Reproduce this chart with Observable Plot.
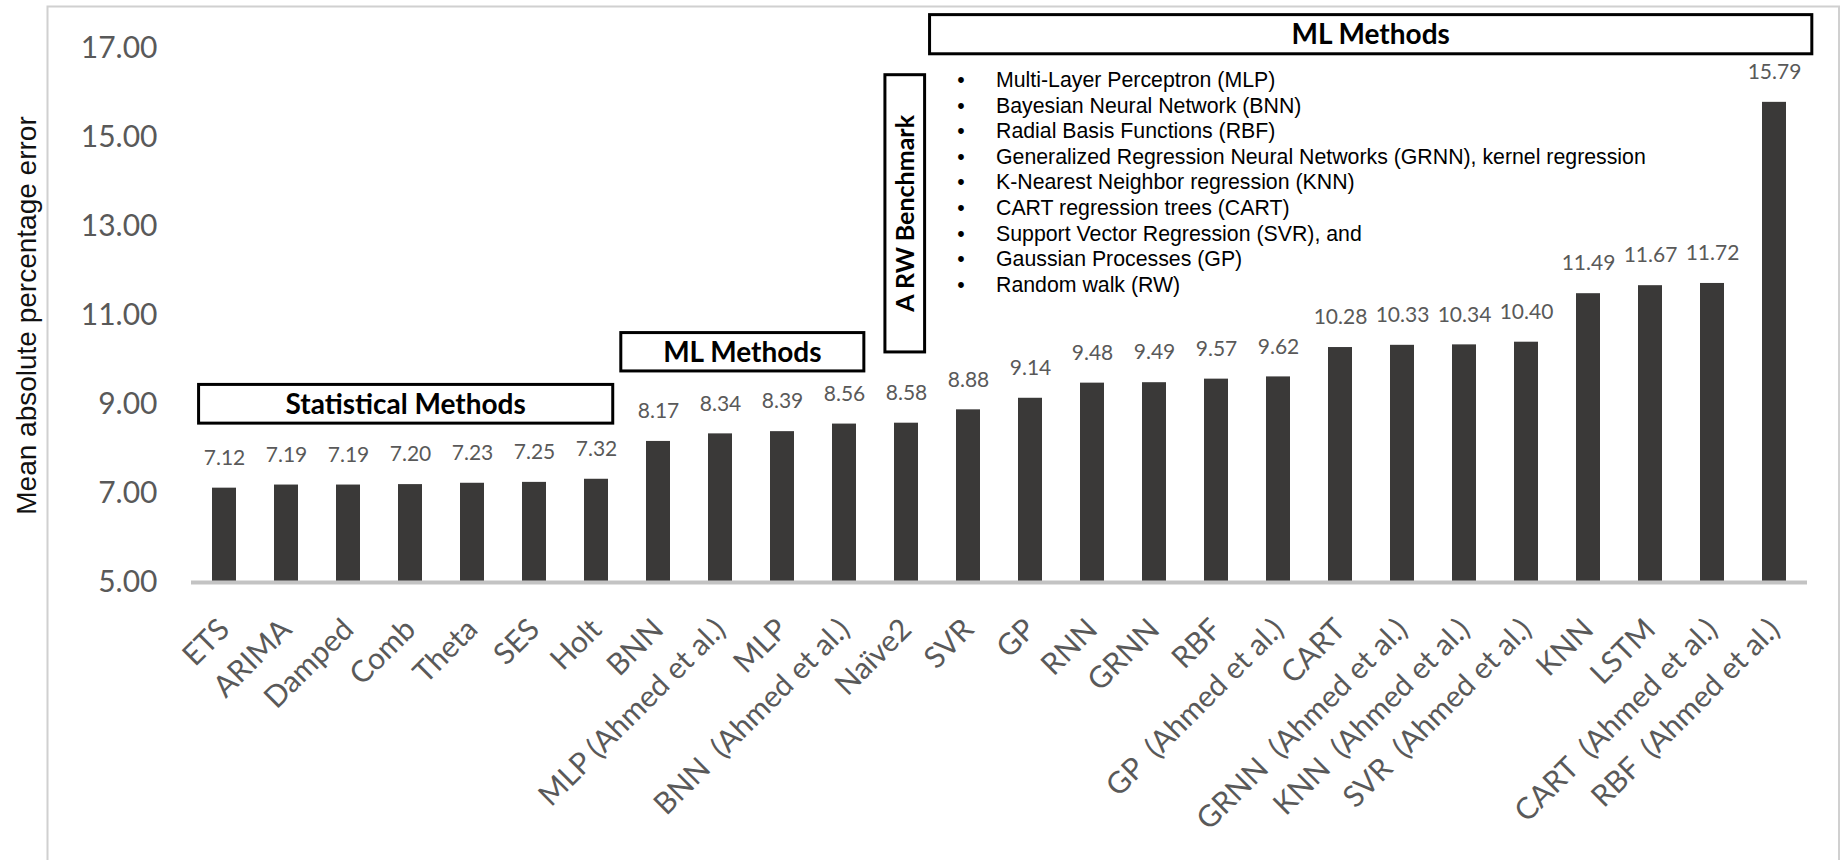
<!DOCTYPE html>
<html>
<head>
<meta charset="utf-8">
<script src="https://cdn.jsdelivr.net/npm/d3@7"></script>
<script src="https://cdn.jsdelivr.net/npm/@observablehq/plot@0.6"></script>
<style>
  body { margin: 0; background: #fff; }
  svg text { white-space: pre; }
</style>
</head>
<body>
<div id="chart"></div>
<script>
// Forecasting methods, ordered by accuracy
const methods = [
  "ETS", "ARIMA", "Damped", "Comb", "Theta", "SES", "Holt",
  "BNN", "MLP (Ahmed et al.)", "MLP", "BNN  (Ahmed et al.)", "Naïve2",
  "SVR", "GP", "RNN", "GRNN", "RBF", "GP  (Ahmed et al.)", "CART",
  "GRNN  (Ahmed et al.)", "KNN  (Ahmed et al.)", "SVR  (Ahmed et al.)",
  "KNN", "LSTM", "CART  (Ahmed et al.)", "RBF  (Ahmed et al.)"
];

// Mean absolute percentage error of each method
const mape = [
  7.12, 7.19, 7.19, 7.20, 7.23, 7.25, 7.32,
  8.17, 8.34, 8.39, 8.56, 8.58,
  8.88, 9.14, 9.48, 9.49, 9.57, 9.62, 10.28,
  10.33, 10.34, 10.40,
  11.49, 11.67, 11.72, 15.79
];

const yTicks = [5, 7, 9, 11, 13, 15, 17];
const yTitle = "Mean absolute percentage error";

// Method families (first and last method covered by each bracket)
const groupLabels = ["Statistical Methods", "ML Methods", "A RW Benchmark", "ML Methods"];
const groupFrom   = ["ETS", "BNN", "Naïve2", "SVR"];
const groupTo     = ["Holt", "BNN  (Ahmed et al.)", "Naïve2", "RBF  (Ahmed et al.)"];

// Methods described in the legend list
const methodList = [
  "Multi-Layer Perceptron (MLP)",
  "Bayesian Neural Network (BNN)",
  "Radial Basis Functions (RBF)",
  "Generalized Regression Neural Networks (GRNN), kernel regression",
  "K-Nearest Neighbor regression (KNN)",
  "CART regression trees (CART)",
  "Support Vector Regression (SVR), and",
  "Gaussian Processes (GP)",
  "Random walk (RW)"
];

const data = methods.map((m, i) => ({method: m, mape: mape[i]}));

const W = 1841, H = 860;
const labelGray = "#595959";
const arial = "'Liberation Sans', Arial, sans-serif";

const plot = Plot.plot({
  width: W,
  height: H,
  marginLeft: 191,
  marginRight: 34,
  marginTop: 48,
  marginBottom: 278,
  style: {background: "#fff", fontFamily: "Lato, sans-serif"},
  x: {domain: methods, paddingInner: 0.614, paddingOuter: 0.307, label: null},
  y: {domain: [5, 17], label: null},
  marks: [
    Plot.barY(data, {x: "method", y1: 5, y2: "mape", fill: "#3a3938"}),
    Plot.ruleY([5], {stroke: "#c3c3c3", strokeWidth: 4}),
    Plot.text(data, {
      x: "method", y: "mape", text: d => d.mape.toFixed(2),
      dy: -30, fontSize: 21, fill: labelGray
    }),
    Plot.axisY({
      ticks: yTicks, tickFormat: d => d.toFixed(2), tickSize: 0, tickPadding: 34,
      fontSize: 30, color: labelGray, label: null
    }),
    Plot.axisX({
      tickRotate: -45, tickSize: 0, tickPadding: 42,
      fontSize: 30, color: labelGray, label: null
    }),
    Plot.text([yTitle], {
      frameAnchor: "left", textAnchor: "middle", rotate: -90, dx: -156, lineAnchor: "bottom",
      fontSize: 28, fill: "#111", fontFamily: arial
    })
  ]
});

// Brackets, legend list and outer border, placed with the plot's own scales
const xs = plot.scale("x"), ys = plot.scale("y");
const cx = m => xs.apply(m) + xs.bandwidth / 2;
const step = cx(methods[1]) - cx(methods[0]);
const svg = d3.select(plot);

svg.insert("rect", ":first-child")
  .attr("x", 47.5).attr("y", 6.5)
  .attr("width", W - 47.5 - 2).attr("height", H)
  .attr("fill", "none").attr("stroke", "#d0d0d0").attr("stroke-width", 2);

const g = svg.append("g");

// horizontal extent (in bands) and vertical extent (in MAPE units) of each bracket
const boxLayout = [
  {l: -0.41, r: 0.27, top: 9.44, bot: 8.57, size: 28, vertical: false},
  {l: -0.60, r: 0.32, top: 10.605, bot: 9.743, size: 28, vertical: false},
  {l: -0.34, r: 0.30, top: 16.40, bot: 10.17, size: 25, vertical: true},
  {l: -0.62, r: 0.61, top: 17.75, bot: 16.87, size: 28, vertical: false}
];

groupLabels.forEach((label, i) => {
  const b = boxLayout[i];
  const x0 = cx(groupFrom[i]) + b.l * step;
  const x1 = cx(groupTo[i]) + b.r * step;
  const y0 = ys.apply(b.top), y1 = ys.apply(b.bot);
  g.append("rect")
    .attr("x", x0).attr("y", y0)
    .attr("width", x1 - x0).attr("height", y1 - y0)
    .attr("fill", "#fff").attr("stroke", "#000").attr("stroke-width", 3);
  const mx = (x0 + x1) / 2, my = (y0 + y1) / 2;
  g.append("text")
    .attr("transform", b.vertical ? `translate(${mx},${my}) rotate(-90)` : `translate(${mx},${my})`)
    .attr("text-anchor", "middle")
    .attr("dy", "0.35em")
    .attr("font-family", "Lato, sans-serif")
    .attr("font-weight", 700)
    .attr("font-size", b.size)
    .attr("fill", "#000")
    .text(label);
});

// bulleted list under the top bracket
const listTop = ys.apply(17.75) + 65;
const lineStep = 25.6;
const listX = cx("SVR");
methodList.forEach((line, i) => {
  const y = listTop + i * lineStep;
  g.append("text")
    .attr("x", listX - 7).attr("y", y).attr("dy", "0.35em")
    .attr("text-anchor", "middle")
    .attr("font-family", arial).attr("font-size", 21.3).attr("fill", "#000")
    .text("•");
  g.append("text")
    .attr("x", listX + 28).attr("y", y).attr("dy", "0.35em")
    .attr("text-anchor", "start")
    .attr("font-family", arial).attr("font-size", 21.3).attr("fill", "#000")
    .text(line);
});

document.getElementById("chart").appendChild(plot);
</script>
</body>
</html>
